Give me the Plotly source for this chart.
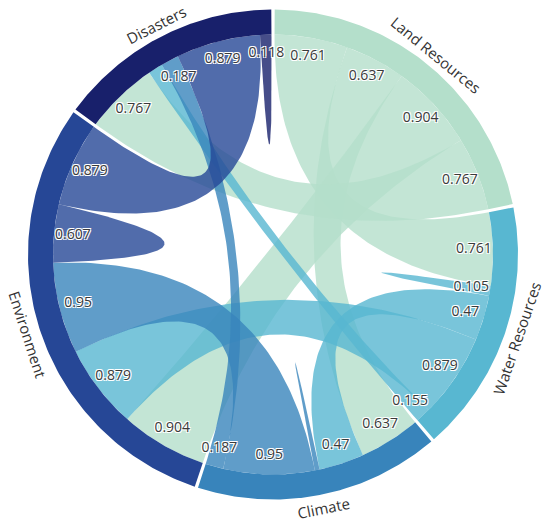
import numpy as np
import plotly.graph_objects as go

# ---------------- data ----------------
groups = ["Land Resources", "Water Resources", "Climate", "Environment", "Disasters"]
group_colors = ["#b4dfcb", "#58b7d1", "#3884bb", "#264796", "#18206b"]
matrix = [
    [0.0,   0.761, 0.637, 0.904, 0.767],
    [0.761, 0.105, 0.47,  0.879, 0.155],
    [0.637, 0.47,  0.05,  0.95,  0.187],
    [0.904, 0.879, 0.95,  0.607, 0.879],
    [0.767, 0.155, 0.187, 0.879, 0.118],
]
# subgroup labels hidden in the original (overlap)
hidden_labels = [(4, 1), (2, 2)]

# ---------------- layout constants ----------------
R_IN, R_OUT = 220.0, 245.0
R_LABEL = 201.0
R_GROUP = 258.0
PAD = 0.8            # degrees between groups
START = PAD / 2.0    # degrees, clockwise from 12 o'clock
CHORD_ALPHA = 0.8

n = len(groups)
m = np.array(matrix, dtype=float)
k = (360.0 - PAD * n) / m.sum()


def pt(a_deg, r):
    a = np.radians(a_deg)
    return r * np.sin(a), r * np.cos(a)


def hex_rgba(h, a):
    h = h.lstrip("#")
    r, g, b = int(h[0:2], 16), int(h[2:4], 16), int(h[4:6], 16)
    return f"rgba({r},{g},{b},{a})"


# group and subgroup angles (d3.chord style)
group_ang = []
sub_ang = [[None] * n for _ in range(n)]
x = START
for i in range(n):
    x0 = x
    for j in range(n):
        w = m[i, j] * k
        sub_ang[i][j] = (x, x + w)
        x += w
    group_ang.append((x0, x))
    x += PAD


def arc_pts(a0, a1, r, num=60):
    a = np.linspace(a0, a1, num)
    xs, ys = pt(a, r)
    return list(xs), list(ys)


def bezier(p0, p2, num=80):
    t = np.linspace(0, 1, num)
    xs = (1 - t) ** 2 * p0[0] + t ** 2 * p2[0]
    ys = (1 - t) ** 2 * p0[1] + t ** 2 * p2[1]
    return list(xs), list(ys)


fig = go.Figure()

# ---------------- chords ----------------
for i in range(n):
    for j in range(i, n):
        if m[i, j] <= 0:
            continue
        sa0, sa1 = sub_ang[i][j]
        ta0, ta1 = sub_ang[j][i]
        X, Y = arc_pts(sa0, sa1, R_IN)
        if i != j:
            bx, by = bezier(pt(sa1, R_IN), pt(ta0, R_IN))
            X += bx; Y += by
            ax, ay = arc_pts(ta0, ta1, R_IN)
            X += ax; Y += ay
            bx, by = bezier(pt(ta1, R_IN), pt(sa0, R_IN))
            X += bx; Y += by
        else:
            bx, by = bezier(pt(sa1, R_IN), pt(sa0, R_IN))
            X += bx; Y += by
        fig.add_trace(go.Scatter(
            x=X, y=Y, mode="lines", fill="toself",
            fillcolor=hex_rgba(group_colors[i], CHORD_ALPHA),
            line=dict(width=0), hoverinfo="skip", showlegend=False))

# ---------------- group arcs ----------------
for i in range(n):
    a0, a1 = group_ang[i]
    ox, oy = arc_pts(a0, a1, R_OUT, 120)
    ix, iy = arc_pts(a1, a0, R_IN, 120)
    fig.add_trace(go.Scatter(
        x=ox + ix + [ox[0]], y=oy + iy + [oy[0]], mode="lines", fill="toself",
        fillcolor=group_colors[i], line=dict(width=0),
        hoverinfo="skip", showlegend=False))

# ---------------- value labels ----------------
lx, ly, lt = [], [], []
for i in range(n):
    for j in range(n):
        if m[i, j] <= 0 or (i, j) in hidden_labels:
            continue
        a0, a1 = sub_ang[i][j]
        px, py = pt((a0 + a1) / 2.0, R_LABEL)
        lx.append(px); ly.append(py); lt.append(f"{m[i, j]:g}")
fig.add_trace(go.Scatter(
    x=lx, y=ly, text=lt, mode="text", textposition="middle center",
    textfont=dict(family="Open Sans", size=14, color="#3a3a3a",
                  shadow="-1px -1px 0 #fff, 1px -1px 0 #fff, -1px 1px 0 #fff, 1px 1px 0 #fff"),
    hoverinfo="skip", showlegend=False))

# ---------------- group labels ----------------
for i in range(n):
    a0, a1 = group_ang[i]
    am = (a0 + a1) / 2.0
    px, py = pt(am, R_GROUP)
    theta = 90.0 - am          # math angle
    if np.sin(np.radians(theta)) >= 0:
        rot = 90.0 - theta
    else:
        rot = -90.0 - theta
    rot = (rot + 180.0) % 360.0 - 180.0
    fig.add_annotation(x=px, y=py, text=groups[i], showarrow=False,
                       textangle=rot, xanchor="center", yanchor="middle",
                       font=dict(family="Open Sans", size=15, color="#333333"))

fig.update_layout(
    width=550, height=527, margin=dict(l=0, r=0, t=0, b=0),
    paper_bgcolor="white", plot_bgcolor="white", showlegend=False,
    xaxis=dict(range=[-273, 277], visible=False, fixedrange=True),
    yaxis=dict(range=[-272.5, 254.5], visible=False, fixedrange=True),
)

fig.write_html("out.html", config={"displayModeBar": False},
               post_script="document.body.style.margin='0';")
